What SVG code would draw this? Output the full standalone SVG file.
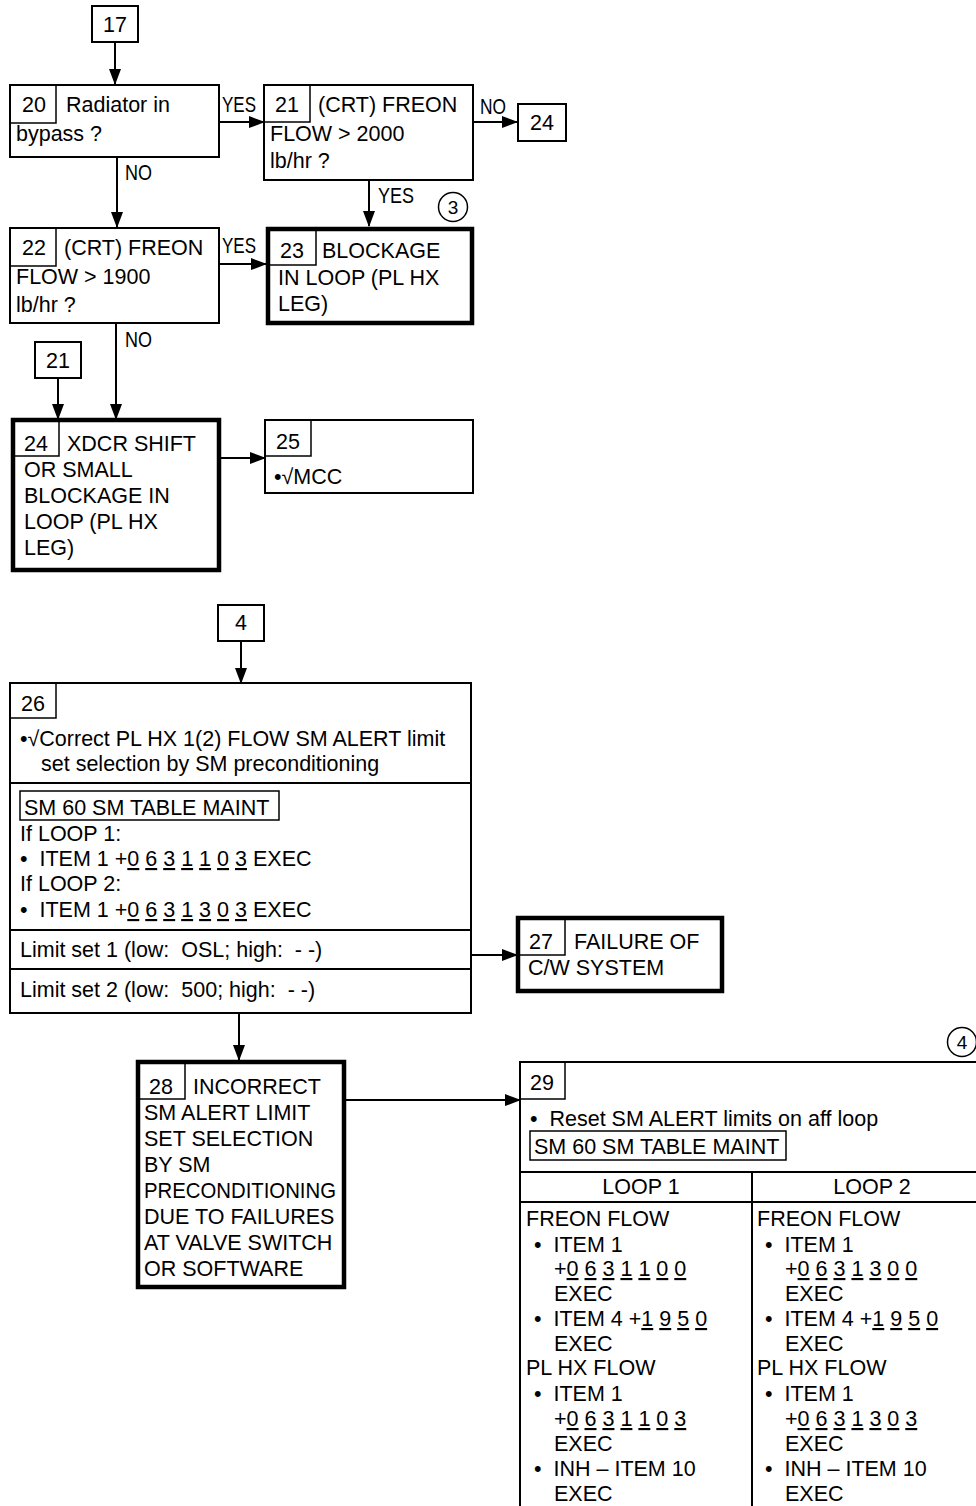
<svg xmlns="http://www.w3.org/2000/svg" width="976" height="1506" viewBox="0 0 976 1506">
<style>
text{font-family:"Liberation Sans",Arial,sans-serif;font-size:21.5px;fill:#000;white-space:pre}
.lbl{font-size:21.5px}
.c{text-anchor:middle}
.b{fill:#fff;stroke:#000;stroke-width:2}
.t{fill:#fff;stroke:#000;stroke-width:4.5}
.n{fill:none;stroke:#000;stroke-width:1.5}
.ln{fill:none;stroke:#000;stroke-width:2}
.u{text-decoration:underline}
</style>
<defs>
<marker id="ah" markerWidth="16" markerHeight="12" refX="15" refY="6" orient="auto" markerUnits="userSpaceOnUse">
<path d="M0,0 L16,6 L0,12 Z" fill="#000"/>
</marker>
</defs>

<g id="connectors">
<line class="ln" x1="115" y1="42" x2="115" y2="84" marker-end="url(#ah)"/>
<line class="ln" x1="219" y1="122" x2="264" y2="122" marker-end="url(#ah)"/>
<text class="lbl" x="222" y="112" textLength="34" lengthAdjust="spacingAndGlyphs">YES</text>
<line class="ln" x1="473" y1="122" x2="517" y2="122" marker-end="url(#ah)"/>
<text class="lbl" x="480" y="114" textLength="26" lengthAdjust="spacingAndGlyphs">NO</text>
<line class="ln" x1="369" y1="180" x2="369" y2="226" marker-end="url(#ah)"/>
<text class="lbl" x="378" y="203" textLength="36" lengthAdjust="spacingAndGlyphs">YES</text>
<line class="ln" x1="117" y1="157" x2="117" y2="227" marker-end="url(#ah)"/>
<text class="lbl" x="125" y="180" textLength="27" lengthAdjust="spacingAndGlyphs">NO</text>
<line class="ln" x1="219" y1="264" x2="266" y2="264" marker-end="url(#ah)"/>
<text class="lbl" x="222" y="253" textLength="34" lengthAdjust="spacingAndGlyphs">YES</text>
<line class="ln" x1="116" y1="323" x2="116" y2="419" marker-end="url(#ah)"/>
<text class="lbl" x="125" y="347" textLength="27" lengthAdjust="spacingAndGlyphs">NO</text>
<line class="ln" x1="58" y1="378" x2="58" y2="419" marker-end="url(#ah)"/>
<line class="ln" x1="220" y1="458" x2="265" y2="458" marker-end="url(#ah)"/>
<line class="ln" x1="241" y1="641" x2="241" y2="683" marker-end="url(#ah)"/>
<line class="ln" x1="471" y1="955" x2="517" y2="955" marker-end="url(#ah)"/>
<line class="ln" x1="239" y1="1013" x2="239" y2="1060" marker-end="url(#ah)"/>
<line class="ln" x1="346" y1="1100" x2="520" y2="1100" marker-end="url(#ah)"/>
</g>

<g id="n17">
<rect class="b" x="92" y="6" width="46" height="36"/>
<text class="c" x="115" y="32">17</text>
</g>

<g id="n20">
<rect class="b" x="10" y="85" width="209" height="72"/>
<rect class="n" x="10" y="85" width="46" height="38"/>
<text class="c" x="34" y="112">20</text>
<text x="66" y="112">Radiator in</text>
<text x="16" y="141">bypass ?</text>
</g>

<g id="n21">
<rect class="b" x="264" y="85" width="209" height="95"/>
<rect class="n" x="264" y="85" width="46" height="37"/>
<text class="c" x="287" y="112">21</text>
<text x="318" y="112">(CRT) FREON</text>
<text x="270" y="141">FLOW &gt; 2000</text>
<text x="270" y="168">lb/hr ?</text>
</g>

<g id="n24a">
<rect class="b" x="518" y="104" width="48" height="37"/>
<text class="c" x="542" y="130">24</text>
</g>

<g id="c3">
<circle cx="453" cy="207" r="14.5" fill="#fff" stroke="#000" stroke-width="1.5"/>
<text class="c" x="453" y="214" style="font-size:19px">3</text>
</g>

<g id="n22">
<rect class="b" x="10" y="228" width="209" height="95"/>
<rect class="n" x="10" y="228" width="46" height="38"/>
<text class="c" x="34" y="255">22</text>
<text x="64" y="255">(CRT) FREON</text>
<text x="16" y="284">FLOW &gt; 1900</text>
<text x="16" y="312">lb/hr ?</text>
</g>

<g id="n23">
<rect class="t" x="268" y="229" width="204" height="94"/>
<rect class="n" x="268" y="229" width="48" height="36"/>
<text class="c" x="292" y="258">23</text>
<text x="322" y="258">BLOCKAGE</text>
<text x="278" y="285">IN LOOP (PL HX</text>
<text x="278" y="311">LEG)</text>
</g>

<g id="n21b">
<rect class="b" x="35" y="342" width="46" height="36"/>
<text class="c" x="58" y="368">21</text>
</g>

<g id="n24">
<rect class="t" x="13" y="420" width="206" height="150"/>
<rect class="n" x="13" y="420" width="46" height="36"/>
<text class="c" x="36" y="451">24</text>
<text x="67" y="451">XDCR SHIFT</text>
<text x="24" y="477">OR SMALL</text>
<text x="24" y="503">BLOCKAGE IN</text>
<text x="24" y="529">LOOP (PL HX</text>
<text x="24" y="555">LEG)</text>
</g>

<g id="n25">
<rect class="b" x="265" y="420" width="208" height="73"/>
<rect class="n" x="265" y="420" width="46" height="36"/>
<text class="c" x="288" y="449">25</text>
<text x="274" y="484">•√MCC</text>
</g>

<g id="n4">
<rect class="b" x="218" y="605" width="46" height="36"/>
<text class="c" x="241" y="630">4</text>
</g>

<g id="n26">
<rect class="b" x="10" y="683" width="461" height="330"/>
<rect class="n" x="10" y="683" width="46" height="35"/>
<text class="c" x="33" y="711">26</text>
<text x="20" y="746">•√Correct PL HX 1(2) FLOW SM ALERT limit</text>
<text x="41" y="771">set selection by SM preconditioning</text>
<line class="ln" x1="10" y1="783" x2="471" y2="783"/>
<rect class="n" x="20" y="791" width="259" height="29"/>
<text x="24" y="815">SM 60 SM TABLE MAINT</text>
<text x="20" y="841">If LOOP 1:</text>
<text x="20" y="866">•  ITEM 1 +<tspan class="u">0</tspan> <tspan class="u">6</tspan> <tspan class="u">3</tspan> <tspan class="u">1</tspan> <tspan class="u">1</tspan> <tspan class="u">0</tspan> <tspan class="u">3</tspan> EXEC</text>
<text x="20" y="891">If LOOP 2:</text>
<text x="20" y="917">•  ITEM 1 +<tspan class="u">0</tspan> <tspan class="u">6</tspan> <tspan class="u">3</tspan> <tspan class="u">1</tspan> <tspan class="u">3</tspan> <tspan class="u">0</tspan> <tspan class="u">3</tspan> EXEC</text>
<line class="ln" x1="10" y1="930" x2="471" y2="930"/>
<text x="20" y="957">Limit set 1 (low:  OSL; high:  - -)</text>
<line class="ln" x1="10" y1="969" x2="471" y2="969"/>
<text x="20" y="997">Limit set 2 (low:  500; high:  - -)</text>
</g>

<g id="n27">
<rect class="t" x="518" y="918" width="204" height="73"/>
<rect class="n" x="518" y="918" width="47" height="37"/>
<text class="c" x="541" y="949">27</text>
<text x="574" y="949">FAILURE OF</text>
<text x="528" y="975">C/W SYSTEM</text>
</g>

<g id="n28">
<rect class="t" x="138" y="1062" width="206" height="225"/>
<rect class="n" x="138" y="1062" width="47" height="37"/>
<text class="c" x="161" y="1094">28</text>
<text x="193" y="1094">INCORRECT</text>
<text x="144" y="1120">SM ALERT LIMIT</text>
<text x="144" y="1146">SET SELECTION</text>
<text x="144" y="1172">BY SM</text>
<text x="144" y="1198" textLength="192" lengthAdjust="spacingAndGlyphs">PRECONDITIONING</text>
<text x="144" y="1224">DUE TO FAILURES</text>
<text x="144" y="1250">AT VALVE SWITCH</text>
<text x="144" y="1276">OR SOFTWARE</text>
</g>

<g id="c4">
<circle cx="962" cy="1042" r="14.5" fill="#fff" stroke="#000" stroke-width="1.5"/>
<text class="c" x="962" y="1049" style="font-size:19px">4</text>
</g>

<g id="n29">
<rect class="b" x="520" y="1062" width="480" height="500"/>
<rect class="n" x="520" y="1062" width="45" height="37"/>
<text class="c" x="542" y="1090">29</text>
<text x="530" y="1126">•  Reset SM ALERT limits on aff loop</text>
<rect class="n" x="530" y="1131" width="256" height="29"/>
<text x="534" y="1154">SM 60 SM TABLE MAINT</text>
<line class="ln" x1="520" y1="1172" x2="980" y2="1172"/>
<line class="ln" x1="752" y1="1172" x2="752" y2="1510"/>
<text class="c" x="641" y="1194">LOOP 1</text>
<text class="c" x="872" y="1194">LOOP 2</text>
<line class="ln" x1="520" y1="1202" x2="980" y2="1202"/>
<text x="526" y="1226">FREON FLOW</text>
<text x="534" y="1252">•  ITEM 1</text>
<text x="554" y="1276">+<tspan class="u">0</tspan> <tspan class="u">6</tspan> <tspan class="u">3</tspan> <tspan class="u">1</tspan> <tspan class="u">1</tspan> <tspan class="u">0</tspan> <tspan class="u">0</tspan></text>
<text x="554" y="1301">EXEC</text>
<text x="534" y="1326">•  ITEM 4 +<tspan class="u">1</tspan> <tspan class="u">9</tspan> <tspan class="u">5</tspan> <tspan class="u">0</tspan></text>
<text x="554" y="1351">EXEC</text>
<text x="526" y="1375">PL HX FLOW</text>
<text x="534" y="1401">•  ITEM 1</text>
<text x="554" y="1426">+<tspan class="u">0</tspan> <tspan class="u">6</tspan> <tspan class="u">3</tspan> <tspan class="u">1</tspan> <tspan class="u">1</tspan> <tspan class="u">0</tspan> <tspan class="u">3</tspan></text>
<text x="554" y="1451">EXEC</text>
<text x="534" y="1476">•  INH – ITEM 10</text>
<text x="554" y="1501">EXEC</text>
<text x="757" y="1226">FREON FLOW</text>
<text x="765" y="1252">•  ITEM 1</text>
<text x="785" y="1276">+<tspan class="u">0</tspan> <tspan class="u">6</tspan> <tspan class="u">3</tspan> <tspan class="u">1</tspan> <tspan class="u">3</tspan> <tspan class="u">0</tspan> <tspan class="u">0</tspan></text>
<text x="785" y="1301">EXEC</text>
<text x="765" y="1326">•  ITEM 4 +<tspan class="u">1</tspan> <tspan class="u">9</tspan> <tspan class="u">5</tspan> <tspan class="u">0</tspan></text>
<text x="785" y="1351">EXEC</text>
<text x="757" y="1375">PL HX FLOW</text>
<text x="765" y="1401">•  ITEM 1</text>
<text x="785" y="1426">+<tspan class="u">0</tspan> <tspan class="u">6</tspan> <tspan class="u">3</tspan> <tspan class="u">1</tspan> <tspan class="u">3</tspan> <tspan class="u">0</tspan> <tspan class="u">3</tspan></text>
<text x="785" y="1451">EXEC</text>
<text x="765" y="1476">•  INH – ITEM 10</text>
<text x="785" y="1501">EXEC</text>
</g>
</svg>
